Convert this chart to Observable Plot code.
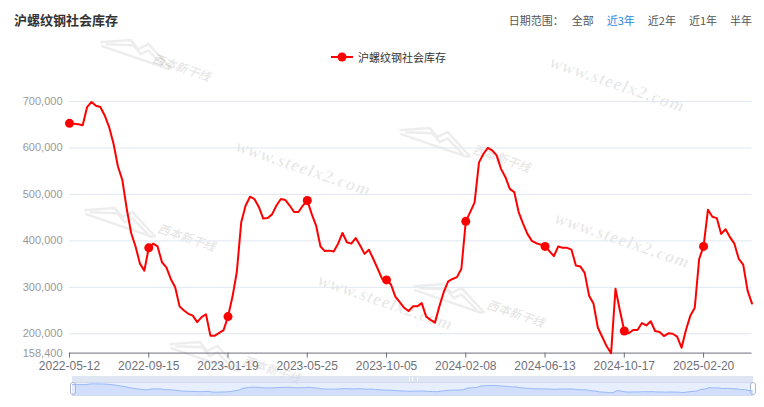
<!DOCTYPE html>
<html><head><meta charset="utf-8">
<script src="https://cdn.jsdelivr.net/npm/d3@7"></script>
<script src="https://cdn.jsdelivr.net/npm/@observablehq/plot@0.6"></script>
<style>
body{margin:0;background:#fff;font-family:"Noto Sans CJK SC","Noto Sans",sans-serif;}
#wrap{position:relative;width:764px;height:407px;overflow:hidden;background:#fff;}
.abs{position:absolute;}
#title{left:14px;top:10px;font-size:13px;font-weight:bold;color:#333;line-height:20px;}
#range{right:12px;top:10px;display:flex;gap:13px;font-size:11px;color:#555;line-height:20px;}
#range .lab{margin-right:-5px;}
#range .sel{color:#1E88E5;}
#legend{left:331px;top:47px;height:20px;display:flex;align-items:center;font-size:11px;color:#333;}
.wm{position:absolute;white-space:nowrap;transform-origin:center;pointer-events:none;}
.www{font-family:"Liberation Serif",serif;font-style:italic;font-weight:bold;font-size:18px;letter-spacing:1px;color:rgba(0,0,0,0.09);}
.logo{font-size:12px;font-style:italic;font-weight:bold;color:rgba(0,0,0,0.10);}
#main{position:absolute;left:0;top:0;}
#mini{position:absolute;left:72px;top:382px;}
</style></head><body>
<div id="wrap">
  <div id="wmlayer" class="abs" style="left:0;top:0;width:764px;height:407px;"></div>
  <div id="slider" class="abs" style="left:0;top:0;width:764px;height:407px;"></div>
  <div id="main"></div>
  <div id="mini"></div>
  <div id="title" class="abs"></div>
  <div id="range" class="abs"></div>
  <div id="legend" class="abs"></div>
</div>
<script>
const titleText = "沪螺纹钢社会库存";
const seriesName = "沪螺纹钢社会库存";
const rangeLabel = "日期范围：";
const rangeOptions = ["全部","近3年","近2年","近1年","半年"];
const selectedRange = "近3年";
const tickLabels = ["2022-05-12","2022-09-15","2023-01-19","2023-05-25","2023-10-05","2024-02-08","2024-06-13","2024-10-17","2025-02-20"];
const tickIndex = [0,18,36,54,72,90,108,126,144];
const yTicks = [158400,200000,300000,400000,500000,600000,700000];
const yMin = 158400, yMax = 700000;
const inventory = [
 653000,652000,651000,649000,688000,699000,691000,688000,670000,645000,
 609000,560000,531000,469000,417000,388000,351000,336000,385000,394000,
 388000,354000,343000,318000,300000,259000,250000,243000,239000,225000,
 236000,242000,196000,196000,202000,208000,237000,279000,333000,440000,
 476000,495000,490000,473000,448000,449000,457000,476000,490000,488000,
 476000,462000,462000,476000,487000,458000,433000,388000,378000,379000,
 377000,394000,417000,397000,394000,406000,390000,372000,381000,361000,
 340000,318000,316000,306000,280000,268000,256000,249000,259000,259000,
 266000,237000,230000,224000,259000,290000,313000,318000,322000,340000,
 442000,462000,483000,569000,587000,600000,595000,584000,555000,537000,
 512000,505000,462000,437000,415000,400000,395000,392000,388000,378000,
 367000,388000,385000,385000,381000,347000,345000,331000,282000,265000,
 213000,193000,173000,158400,297000,250000,206000,201000,208000,208000,
 223000,218000,227000,206000,204000,195000,201000,200000,194000,170000,
 208000,239000,256000,361000,388000,467000,452000,449000,415000,425000,
 408000,394000,361000,349000,293000,265000
];
const watermarkSite = "www.steelx2.com";
const watermarkLogo = "西本新干线";

const data = inventory.map((v, i) => ({i, v}));
const axisFont = '"Liberation Sans",Arial,sans-serif';

// header
document.getElementById("title").textContent = titleText;
const range = document.getElementById("range");
const lab = document.createElement("span"); lab.textContent = rangeLabel; lab.className = "lab"; range.appendChild(lab);
rangeOptions.forEach(o => { const s = document.createElement("span"); s.textContent = o; if (o === selectedRange) s.className = "sel"; range.appendChild(s); });
// legend
const lg = document.getElementById("legend");
lg.innerHTML = '<svg width="22" height="10" style="margin-right:5px"><line x1="0" x2="22" y1="5" y2="5" stroke="#FF0000" stroke-width="2"/><circle cx="11" cy="5" r="4.5" fill="#FF0000"/></svg>';
const lt = document.createElement("span"); lt.textContent = seriesName; lg.appendChild(lt);

// watermarks
const wm = document.getElementById("wmlayer");
function addWm(cls, text, cx, cy) {
  const d = document.createElement("div"); d.className = "wm " + cls; d.textContent = text;
  wm.appendChild(d);
  const w = d.offsetWidth, h = d.offsetHeight;
  d.style.left = (cx - w / 2) + "px"; d.style.top = (cy - h / 2) + "px";
  d.style.transform = "rotate(19deg)";
}
function addGlyph(cx, cy) {
  const s = document.createElementNS("http://www.w3.org/2000/svg", "svg");
  s.setAttribute("width", 80); s.setAttribute("height", 30);
  s.style.position = "absolute"; s.style.left = (cx - 40) + "px"; s.style.top = (cy - 15) + "px";
  s.style.transform = "rotate(19deg)";
  s.innerHTML = '<path d="M2,20 L30,8 L40,14 L48,6 L78,22 M8,20 L34,12 L44,18 L50,12 L70,22 M4,23 L76,23" fill="none" stroke="rgba(0,0,0,0.07)" stroke-width="2.5"/>';
  wm.appendChild(s);
}
[[617,84],[303,168],[622,240],[385,302]].forEach(([x,y]) => addWm("www", watermarkSite, x, y));
[[182,66,138,50],[502,157,437,138],[187,236,122,218],[516,312,451,294],[272,368,207,352]].forEach(([x,y,gx,gy]) => { addGlyph(gx, gy); addWm("logo", watermarkLogo, x, y); });

// main chart
const chart = Plot.plot({
  width: 764, height: 407,
  marginLeft: 69, marginRight: 12.5, marginTop: 101, marginBottom: 54.4,
  style: {background: "transparent", fontFamily: axisFont, fontSize: "11px", overflow: "visible"},
  x: {domain: [0, inventory.length - 1], axis: null},
  y: {domain: [yMin, yMax], axis: null},
  marks: [
    Plot.ruleY(yTicks.filter(t => t > yMin), {stroke: "#E0E6F1", strokeWidth: 1}),
    Plot.ruleY([yMin], {stroke: "#6E7079", strokeWidth: 1}),
    Plot.axisY({ticks: yTicks, tickSize: 0, tickPadding: 7, tickFormat: d3.format(","), fill: "#999", label: null, fontSize: 11}),
    Plot.axisX({ticks: tickIndex, tickSize: 5, tickPadding: 3.5, stroke: "#6E7079", fill: "#6E7079", label: null, fontSize: 12,
      tickFormat: i => tickLabels[tickIndex.indexOf(i)]}),
    Plot.line(data, {x: "i", y: "v", stroke: "#FF0000", strokeWidth: 2}),
    Plot.dot(data.filter(d => tickIndex.includes(d.i)), {x: "i", y: "v", r: 4.5, fill: "#FF0000"})
  ]
});
document.getElementById("main").appendChild(chart);

// slider (dataZoom)
const sl = document.getElementById("slider");
sl.innerHTML =
  '<div class="abs" style="left:72px;top:375.5px;width:681px;height:6.5px;background:rgba(210,219,238,0.7)"></div>' +
  '<div class="abs" style="left:72px;top:382px;width:679px;height:12px;border:1px solid #d2dbee;background:rgba(135,175,254,0.2)"></div>' +
  '<div class="abs" style="left:409px;top:376.5px;width:7px;height:4px;border-left:1px solid #fff;border-right:1px solid #fff;"></div>' +
  '<div class="abs" style="left:412px;top:376.5px;width:1px;height:4px;background:#fff"></div>';
const mini = Plot.plot({
  width: 681, height: 13, margin: 0,
  style: {background: "transparent", overflow: "hidden"},
  x: {domain: [0, inventory.length - 1], axis: null},
  y: {domain: [yMin, yMax], range: [10.3, 1.3], axis: null},
  marks: [
    Plot.areaY(data, {x: "i", y1: 0, y2: "v", fill: "#8FB0F7", fillOpacity: 0.25, clip: true}),
    Plot.line(data, {x: "i", y: "v", stroke: "#8FB0F7", strokeWidth: 0.8})
  ]
});
document.getElementById("mini").appendChild(mini);
sl.insertAdjacentHTML("beforeend",
  '<div class="abs" style="left:69.5px;top:382px;width:4px;height:11px;border:1px solid #ACB8D1;border-radius:3px;background:#fff;z-index:5"></div>' +
  '<div class="abs" style="left:749.5px;top:382px;width:4px;height:11px;border:1px solid #ACB8D1;border-radius:3px;background:#fff;z-index:5"></div>');
document.getElementById("slider").style.zIndex = 0;
document.getElementById("mini").style.zIndex = 1;
</script>
</body></html>
